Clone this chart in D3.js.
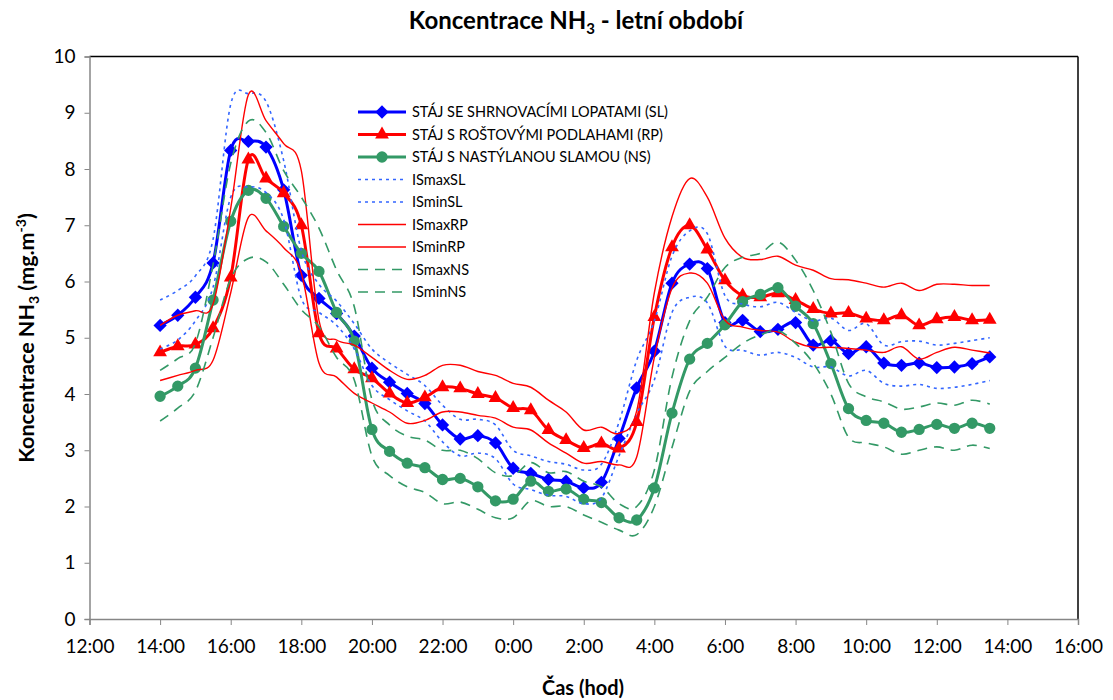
<!DOCTYPE html>
<html><head><meta charset="utf-8">
<script src="https://cdn.jsdelivr.net/npm/d3@7"></script>
<style>
body{margin:0;background:#fff;}
svg{display:block;font-family:Lato,"Open Sans",sans-serif;}
</style></head>
<body><svg id="c" width="1113" height="700"></svg>
<script>
const times = ["14:00","14:30","15:00","15:30","16:00","16:30","17:00","17:30","18:00","18:30","19:00","19:30","20:00","20:30","21:00","21:30","22:00","22:30","23:00","23:30","0:00","0:30","1:00","1:30","2:00","2:30","3:00","3:30","4:00","4:30","5:00","5:30","6:00","6:30","7:00","7:30","8:00","8:30","9:00","9:30","10:00","10:30","11:00","11:30","12:00","12:30","13:00","13:30"];
const SL = [5.22,5.40,5.72,6.33,8.33,8.49,8.39,7.63,6.11,5.70,5.43,5.03,4.46,4.21,4.01,3.83,3.45,3.20,3.26,3.13,2.68,2.59,2.48,2.45,2.33,2.43,3.21,4.11,4.76,5.97,6.31,6.23,5.27,5.31,5.11,5.15,5.27,4.87,4.95,4.72,4.84,4.55,4.51,4.55,4.47,4.48,4.54,4.66];
const RP = [4.74,4.85,4.88,5.17,6.07,8.17,7.83,7.57,7.00,5.08,4.81,4.44,4.28,4.01,3.84,3.94,4.12,4.10,4.00,3.93,3.75,3.71,3.36,3.18,3.04,3.12,3.03,3.50,5.37,6.61,7.00,6.57,6.02,5.75,5.72,5.79,5.67,5.51,5.43,5.44,5.34,5.31,5.40,5.22,5.33,5.37,5.31,5.32];
const NS = [3.96,4.14,4.46,5.67,7.07,7.62,7.48,6.98,6.50,6.18,5.45,4.94,3.37,2.98,2.77,2.69,2.48,2.50,2.35,2.10,2.13,2.45,2.27,2.31,2.13,2.07,1.80,1.76,2.33,3.66,4.62,4.90,5.23,5.64,5.77,5.89,5.56,5.25,4.54,3.74,3.53,3.48,3.32,3.37,3.46,3.39,3.48,3.39];
const ISmaxSL = [5.67,5.84,6.10,6.75,9.15,9.34,9.20,8.15,6.55,5.95,5.65,5.25,4.80,4.55,4.35,4.15,3.80,3.55,3.55,3.45,3.00,2.90,2.80,2.75,2.65,2.75,3.50,4.60,5.30,6.45,6.90,6.85,5.75,5.60,5.55,5.63,5.45,5.30,5.35,5.13,5.25,4.87,4.93,4.94,4.87,4.90,4.95,5.00];
const ISminSL = [4.80,4.96,5.30,5.90,7.50,7.68,7.58,7.10,5.70,5.45,5.22,4.80,4.15,3.90,3.70,3.52,3.15,2.90,2.95,2.85,2.40,2.30,2.20,2.18,2.05,2.15,2.90,3.65,4.25,5.45,5.72,5.62,4.85,4.78,4.69,4.74,4.65,4.48,4.48,4.32,4.42,4.19,4.14,4.17,4.10,4.12,4.17,4.24];
const ISmaxRP = [5.22,5.40,5.48,5.60,7.30,9.32,8.86,8.45,7.97,5.31,4.96,4.87,4.65,4.42,4.26,4.33,4.51,4.51,4.40,4.33,4.19,4.12,3.89,3.68,3.36,3.41,3.30,3.70,5.80,7.15,7.83,7.50,6.77,6.43,6.39,6.45,6.29,6.20,6.05,6.03,5.97,5.90,5.97,5.84,5.95,5.95,5.93,5.93];
const ISminRP = [4.24,4.33,4.42,4.60,5.80,7.14,6.90,6.60,6.15,4.55,4.30,4.01,3.84,3.68,3.48,3.53,3.68,3.68,3.62,3.57,3.41,3.36,3.13,2.95,2.77,2.80,2.74,2.88,4.65,5.88,6.15,5.97,5.31,5.19,5.13,5.10,4.92,4.83,4.83,4.81,4.78,4.74,4.84,4.62,4.74,4.83,4.78,4.73];
const ISmaxNS = [4.42,4.63,4.90,6.30,8.10,8.85,8.65,7.97,7.50,6.95,6.20,5.55,3.90,3.45,3.25,3.18,3.00,3.00,2.85,2.60,2.55,2.78,2.60,2.62,2.45,2.35,2.05,2.00,2.65,4.30,5.30,5.72,6.25,6.43,6.50,6.70,6.38,5.84,5.10,4.19,3.95,3.86,3.73,3.77,3.84,3.80,3.89,3.82];
const ISminNS = [3.52,3.75,4.05,5.00,6.05,6.41,6.35,5.95,5.50,5.20,4.65,4.25,2.90,2.55,2.35,2.25,2.05,2.08,1.95,1.80,1.80,2.10,2.00,2.00,1.85,1.72,1.58,1.50,2.00,3.05,4.05,4.40,4.65,4.90,5.05,5.13,4.90,4.55,4.00,3.23,3.13,3.06,2.93,3.00,3.06,3.00,3.09,3.03];
const xTickLabels = ["12:00","14:00","16:00","18:00","20:00","22:00","0:00","2:00","4:00","6:00","8:00","10:00","12:00","14:00","16:00"];
const yTicks = [0,1,2,3,4,5,6,7,8,9,10];

// convert clock labels to running hours (labels wrap past midnight)
function runningHours(labels){ const out=[]; let prev=-1, add=0;
  labels.forEach(s=>{ const [h,m]=s.split(":").map(Number); let v=h+m/60+add; if(v<=prev){add+=24; v+=24;} out.push(v); prev=v; });
  return out; }
const tickHours = runningHours(xTickLabels);
const tHours = runningHours(times);

const L = 89.5, R = 1078, T = 56.5, B = 619;
const x = d3.scaleLinear().domain([12, 40]).range([L, R]);
const y = d3.scaleLinear().domain([0, 10]).range([B, T]);
const svg = d3.select("#c");

svg.append("line").attr("x1",L).attr("x2",R).attr("y1",T).attr("y2",T).attr("stroke","#000").attr("stroke-width",1.5);
svg.append("line").attr("x1",R).attr("x2",R).attr("y1",T).attr("y2",B).attr("stroke","#000").attr("stroke-width",1.5);

const yAxis = svg.append("g").attr("transform",`translate(${L},0)`)
  .call(d3.axisLeft(y).tickValues(yTicks).tickSize(5).tickPadding(9).tickFormat(d3.format("d")));
const xAxis = svg.append("g").attr("transform",`translate(0,${B})`)
  .call(d3.axisBottom(x).tickValues(tickHours).tickSize(6).tickPadding(15).tickFormat((d,i)=>xTickLabels[i]));
[yAxis,xAxis].forEach(g=>{
  g.select(".domain").attr("stroke","#868686").attr("stroke-width",1.5);
  g.selectAll(".tick line").attr("stroke","#868686").attr("stroke-width",1);
  g.selectAll("text").attr("font-family","Lato").attr("font-size",19).attr("fill","#000");
});

const curve = d3.curveCardinal.tension(0);
const line = d3.line().x((d,i)=>x(tHours[i])).y(d=>y(d)).curve(curve);

const series = [
  {name:"STÁJ SE SHRNOVACÍMI LOPATAMI (SL)", data:SL, color:"#0000ff", w:3, dash:null, marker:"diamond"},
  {name:"STÁJ S ROŠTOVÝMI PODLAHAMI (RP)", data:RP, color:"#ff0000", w:3, dash:null, marker:"triangle"},
  {name:"STÁJ S NASTÝLANOU SLAMOU (NS)", data:NS, color:"#339966", w:3, dash:null, marker:"circle"},
  {name:"ISmaxSL", data:ISmaxSL, color:"#3366ff", w:1.6, dash:"3,4", marker:null},
  {name:"ISminSL", data:ISminSL, color:"#3366ff", w:1.6, dash:"3,4", marker:null},
  {name:"ISmaxRP", data:ISmaxRP, color:"#ff0000", w:1.4, dash:null, marker:null},
  {name:"ISminRP", data:ISminRP, color:"#ff0000", w:1.4, dash:null, marker:null},
  {name:"ISmaxNS", data:ISmaxNS, color:"#339966", w:1.6, dash:"10,7", marker:null},
  {name:"ISminNS", data:ISminNS, color:"#339966", w:1.6, dash:"10,7", marker:null}
];
const sym = {diamond:d3.symbol().type(d3.symbolSquare).size(88), triangle:d3.symbol().type(d3.symbolTriangle).size(82), circle:d3.symbol().type(d3.symbolCircle).size(100)};
const rot = {diamond:45, triangle:0, circle:0};

const plot = svg.append("g");
series.forEach(s=>{
  plot.append("path").attr("d",line(s.data)).attr("fill","none").attr("stroke",s.color)
    .attr("stroke-width",s.w).attr("stroke-dasharray",s.dash).attr("stroke-linejoin","round");
  if (s.marker) {
    plot.append("g").selectAll("path").data(s.data).join("path")
      .attr("d",sym[s.marker]).attr("fill",s.color)
      .attr("transform",(d,i)=>`translate(${x(tHours[i])},${y(d)}) rotate(${rot[s.marker]})`);
  }
});

const lg = svg.append("g").attr("transform","translate(358,112)");
series.forEach((s,i)=>{
  const yy = i*22.5;
  lg.append("line").attr("x1",0).attr("x2",48).attr("y1",yy).attr("y2",yy).attr("stroke",s.color)
    .attr("stroke-width",s.w).attr("stroke-dasharray",s.dash);
  if (s.marker) lg.append("path").attr("d",sym[s.marker]).attr("fill",s.color).attr("transform",`translate(24,${yy}) rotate(${rot[s.marker]})`);
  lg.append("text").attr("x",54).attr("y",yy).attr("dy","0.35em").attr("font-size",14.5).attr("fill","#000").text(s.name);
});

const title = svg.append("text").attr("x",576).attr("y",29).attr("text-anchor","middle").attr("font-weight","bold").attr("font-size",24);
title.append("tspan").text("Koncentrace NH");
title.append("tspan").attr("dy",5).attr("font-size",15).text("3");
title.append("tspan").attr("dy",-5).text(" - letní období");

svg.append("text").attr("x",583).attr("y",695).attr("text-anchor","middle").attr("font-weight","bold").attr("font-size",20).text("Čas (hod)");

const yl = svg.append("text").attr("transform","translate(34,338) rotate(-90)").attr("text-anchor","middle").attr("font-weight","bold").attr("font-size",21.5);
yl.append("tspan").text("Koncentrace NH");
yl.append("tspan").attr("dy",5).attr("font-size",14).text("3");
yl.append("tspan").attr("dy",-5).text(" (mg.m");
yl.append("tspan").attr("dy",-8).attr("font-size",14).text("-3");
yl.append("tspan").attr("dy",8).text(")");
</script></body></html>
